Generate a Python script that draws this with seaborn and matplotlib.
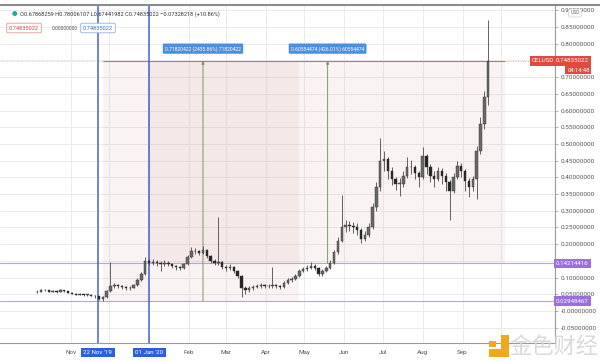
import numpy as np
import pandas as pd
import matplotlib
matplotlib.use("Agg")
import matplotlib.pyplot as plt
import matplotlib.dates as mdates
from matplotlib.patches import Rectangle
import seaborn as sns

# 3-day candles, starting 6 Oct 2019
start = "2019-10-06"
close = [0.058, 0.064, 0.062, 0.058, 0.060, 0.058, 0.062, 0.060, 0.055, 0.052,
         0.049, 0.050, 0.048, 0.049, 0.046, 0.044, 0.036, 0.042, 0.060, 0.075,
         0.078, 0.074, 0.071, 0.068, 0.070, 0.078, 0.093, 0.110, 0.150, 0.145,
         0.148, 0.145, 0.142, 0.145, 0.140, 0.134, 0.131, 0.128, 0.140, 0.160,
         0.180, 0.178, 0.174, 0.182, 0.165, 0.150, 0.144, 0.147, 0.132, 0.128,
         0.132, 0.120, 0.105, 0.070, 0.062, 0.068, 0.072, 0.075, 0.078, 0.074,
         0.075, 0.078, 0.074, 0.072, 0.085, 0.093, 0.096, 0.104, 0.120, 0.125,
         0.129, 0.135, 0.130, 0.110, 0.120, 0.128, 0.145, 0.175, 0.210, 0.250,
         0.258, 0.255, 0.250, 0.243, 0.215, 0.228, 0.252, 0.311, 0.370, 0.450,
         0.455, 0.420, 0.395, 0.380, 0.380, 0.405, 0.430, 0.432, 0.413, 0.400,
         0.465, 0.430, 0.405, 0.395, 0.420, 0.405, 0.385, 0.360, 0.400, 0.435,
         0.420, 0.390, 0.372, 0.395, 0.480, 0.560, 0.640, 0.748]
high = [0.062, 0.067, 0.066, 0.063, 0.063, 0.062, 0.067, 0.064, 0.061, 0.057,
        0.054, 0.053, 0.052, 0.052, 0.050, 0.048, 0.045, 0.045, 0.064, 0.147,
        0.085, 0.082, 0.078, 0.074, 0.076, 0.082, 0.098, 0.118, 0.162, 0.156,
        0.155, 0.152, 0.150, 0.152, 0.149, 0.143, 0.138, 0.135, 0.145, 0.166,
        0.192, 0.188, 0.182, 0.195, 0.185, 0.168, 0.155, 0.281, 0.150, 0.138,
        0.140, 0.135, 0.122, 0.108, 0.075, 0.074, 0.078, 0.081, 0.084, 0.082,
        0.080, 0.132, 0.082, 0.078, 0.090, 0.099, 0.103, 0.110, 0.127, 0.133,
        0.137, 0.147, 0.140, 0.132, 0.126, 0.136, 0.152, 0.182, 0.220, 0.347,
        0.272, 0.270, 0.266, 0.262, 0.248, 0.240, 0.262, 0.322, 0.385, 0.518,
        0.478, 0.462, 0.430, 0.402, 0.398, 0.418, 0.462, 0.452, 0.438, 0.420,
        0.490, 0.470, 0.440, 0.418, 0.432, 0.428, 0.412, 0.392, 0.412, 0.448,
        0.442, 0.425, 0.398, 0.405, 0.495, 0.580, 0.660, 0.870]
low = [0.054, 0.056, 0.059, 0.056, 0.056, 0.055, 0.057, 0.057, 0.053, 0.050,
       0.047, 0.047, 0.046, 0.046, 0.044, 0.040, 0.033, 0.0295, 0.040, 0.058,
       0.070, 0.068, 0.066, 0.063, 0.064, 0.068, 0.076, 0.090, 0.108, 0.138,
       0.138, 0.136, 0.120, 0.136, 0.134, 0.128, 0.124, 0.122, 0.126, 0.138,
       0.158, 0.170, 0.166, 0.170, 0.158, 0.144, 0.138, 0.138, 0.126, 0.120,
       0.124, 0.114, 0.098, 0.042, 0.052, 0.058, 0.064, 0.068, 0.070, 0.068,
       0.068, 0.070, 0.068, 0.066, 0.070, 0.082, 0.088, 0.094, 0.102, 0.116,
       0.120, 0.126, 0.122, 0.104, 0.106, 0.118, 0.126, 0.142, 0.170, 0.205,
       0.236, 0.238, 0.232, 0.228, 0.204, 0.208, 0.222, 0.246, 0.300, 0.360,
       0.420, 0.395, 0.378, 0.362, 0.345, 0.370, 0.398, 0.410, 0.395, 0.372,
       0.395, 0.410, 0.385, 0.370, 0.388, 0.380, 0.360, 0.272, 0.352, 0.395,
       0.400, 0.360, 0.340, 0.360, 0.335, 0.470, 0.545, 0.617]
first_open = 0.056

last_price = 0.74835022
level_hi = 0.14214416
level_lo = 0.02948467
header = "O0.67868259 H0.78006107 L0.67441982 C0.74835022 \u22120.07328218 (+10.86%)"
range_labels = ["0.71820422 (2435.86%) 71820422", "0.60554474 (426.01%) 60554474"]
months = ["Nov", "", "", "Feb", "Mar", "Apr", "May", "Jun", "Jul", "Aug", "Sep", ""]

df = pd.DataFrame({"close": close, "high": high, "low": low})
df["date"] = pd.date_range(start, periods=len(df), freq="3D")
df["open"] = [first_open] + close[:-1]
df["up"] = df["close"] >= df["open"]

sns.set_style("white")
plt.rcParams["font.family"] = ["Roboto", "Noto Sans CJK SC", "DejaVu Sans"]

fig = plt.figure(figsize=(6.0, 3.62), dpi=100)
ax = fig.add_axes([0.0, 19 / 362, 555 / 600, 338 / 362])

# grid
month_ticks = pd.date_range("2019-11-01", "2020-10-01", freq="MS")
for m in month_ticks:
    ax.axvline(m, color="#ebebeb", lw=0.7, zorder=0)
yt = np.round(np.arange(-0.05, 0.901, 0.05), 2)
for v in yt:
    ax.axhline(v, color="#ebebeb", lw=0.7, zorder=0)

# price range boxes
dA0, dA1 = mdates.date2num(pd.Timestamp("2019-11-26")), mdates.date2num(pd.Timestamp("2020-04-27"))
dB0, dB1 = mdates.date2num(pd.Timestamp("2020-01-01")), mdates.date2num(pd.Timestamp("2020-10-04"))
ax.add_patch(Rectangle((dA0, level_lo), dA1 - dA0, last_price - level_lo,
                       facecolor="#d9a3a3", alpha=0.13, lw=0, zorder=1))
ax.add_patch(Rectangle((dB0, level_hi), dB1 - dB0, last_price - level_hi,
                       facecolor="#d9a3a3", alpha=0.13, lw=0, zorder=1))

# horizontal levels
ax.axhline(level_hi, color="#b7a3e3", lw=0.8, zorder=2)
ax.axhline(level_lo, color="#b7a3e3", lw=0.8, zorder=2)
ax.hlines(last_price, dA0, dB1, color="#948c6a", lw=0.8, zorder=2)
ax.hlines(last_price, mdates.date2num(pd.Timestamp("2019-09-01")), dA0, color="#cfc3b5",
          lw=0.6, ls=(0, (1, 2)), zorder=2)
ax.hlines(last_price, dB1, mdates.date2num(pd.Timestamp("2020-11-20")), color="#d49a92",
          lw=0.6, ls=(0, (1, 2)), zorder=2)

# measure arrows
arrows = [("2020-02-12", level_lo), ("2020-05-19", level_hi)]
for (d, base), lab in zip(arrows, range_labels):
    xd = mdates.date2num(pd.Timestamp(d))
    ax.annotate("", xy=(xd, last_price), xytext=(xd, base),
                arrowprops=dict(arrowstyle="-|>", color="#7f9463", lw=0.7,
                                mutation_scale=4, shrinkA=0, shrinkB=0), zorder=3)
    ax.text(xd, last_price + 0.037, lab, ha="center", va="center", fontsize=3.6, color="white",
            bbox=dict(boxstyle="round,pad=0.45,rounding_size=0.2", fc="#4c8fdc", ec="none"), zorder=6)

# vertical date markers
for d in ["2019-11-22", "2020-01-01"]:
    ax.axvline(pd.Timestamp(d), color="#4862c4", lw=1.1, zorder=4)

# candles
colors = np.where(df["up"], "#6a6a6a", "#262626")
ax.vlines(df["date"], df["low"], df["high"], color="#4a4a4a", lw=0.6, zorder=5)
body_lo = np.minimum(df["open"], df["close"])
body_h = np.maximum(np.abs(df["close"] - df["open"]), 0.002)
ax.bar(df["date"], body_h, bottom=body_lo, width=1.9, color=colors,
       edgecolor="#2e2e2e", linewidth=0.3, zorder=5)

ax.set_xlim(pd.Timestamp("2019-09-07"), pd.Timestamp("2020-11-12"))
ax.set_ylim(-0.096, 0.916)

# axes styling (labels that sit under the price tags are hidden, as in the chart)
ax.yaxis.tick_right()
ax.set_yticks(yt)
ylabels = []
for v in yt:
    if abs(v) < 1e-9:
        ylabels.append("-0.00000000")
    elif abs(v - 0.75) < 1e-9 or abs(v - 0.15) < 1e-9:
        ylabels.append("")
    else:
        ylabels.append("%.8f" % v)
ax.set_yticklabels(ylabels)
ax.set_xticks(month_ticks)
ax.set_xticklabels(months)
ax.tick_params(axis="y", right=True, length=2.5, width=0.5, color="#999999",
               labelsize=4.6, labelcolor="#555555", pad=1.5)
ax.tick_params(axis="x", length=0, labelsize=4.6, labelcolor="#555555", pad=5)
for s in ["top", "left"]:
    ax.spines[s].set_visible(False)
for s in ["right", "bottom"]:
    ax.spines[s].set_color("#9a9a9a")
    ax.spines[s].set_linewidth(0.8)

# right-axis price tags
ytr = ax.get_yaxis_transform()
ax.text(1.002, last_price, "%.8f" % last_price, transform=ytr, ha="left", va="center", fontsize=4.4,
        color="white", bbox=dict(boxstyle="square,pad=0.35", fc="#e04a3f", ec="none"), clip_on=False, zorder=7)
ax.text(0.998, last_price, "CELUSD", transform=ytr, ha="right", va="center", fontsize=4.4,
        color="white", bbox=dict(boxstyle="square,pad=0.35", fc="#e04a3f", ec="none"), clip_on=False, zorder=7)
ax.text(1.022, last_price - 0.027, "04:14:48", transform=ytr, ha="left", va="center", fontsize=4.2,
        color="white", bbox=dict(boxstyle="square,pad=0.3", fc="#e04a3f", ec="none"), clip_on=False, zorder=7)
for v in [level_hi, level_lo]:
    ax.text(1.002, v, "%.8f" % v, transform=ytr, ha="left", va="center", fontsize=4.4,
            color="white", bbox=dict(boxstyle="square,pad=0.35", fc="#9b6fe0", ec="none"),
            clip_on=False, zorder=7)

# bottom date tags
xtr = ax.get_xaxis_transform()
for d, lab in [("2019-11-22", "22 Nov '19"), ("2020-01-01", "01 Jan '20")]:
    ax.text(pd.Timestamp(d), -0.028, lab, transform=xtr, ha="center", va="center", fontsize=4.4,
            color="white", bbox=dict(boxstyle="square,pad=0.4", fc="#2f5fd8", ec="none"),
            clip_on=False, zorder=7)

# header overlay
fig.add_artist(plt.Line2D([0, 1], [1 - 4.5 / 362] * 2, color="#8c8c8c", lw=1.5))
fig.text(14 / 600, 1 - 14 / 362, "\u25cf", fontsize=4, color="#26a69a", ha="center", va="center")
fig.text(20 / 600, 1 - 14 / 362, header, fontsize=4.1, color="#333333", va="center")
fig.text(9 / 600, 1 - 28 / 362, "%.8f" % last_price, fontsize=4.1, color="#d0453c", va="center",
         bbox=dict(boxstyle="round,pad=0.4,rounding_size=0.2", fc="white", ec="#e49a94", lw=0.6))
fig.text(52 / 600, 1 - 28 / 362, "0.00000000", fontsize=3.6, color="#555555", va="center")
fig.text(83 / 600, 1 - 28 / 362, "%.8f" % last_price, fontsize=4.1, color="#2f6fc2", va="center",
         bbox=dict(boxstyle="round,pad=0.4,rounding_size=0.2", fc="white", ec="#8fb3e0", lw=0.6))
fig.text(575 / 600, 1 - 13 / 362, "USD", fontsize=3.6, color="#666666", ha="center", va="center",
         bbox=dict(boxstyle="round,pad=0.3", fc="white", ec="#cccccc", lw=0.5), zorder=10)

# watermark
fig.patches.append(Rectangle((489 / 600, 1 - 357 / 362), 20 / 600, 8 / 362, transform=fig.transFigure,
                             fc="#f0a81c", ec="none"))
fig.patches.append(Rectangle((501 / 600, 1 - 349 / 362), 8 / 600, 14 / 362, transform=fig.transFigure,
                             fc="#f0a81c", ec="none"))
fig.patches.append(Rectangle((489 / 600, 1 - 347 / 362), 7 / 600, 6 / 362, transform=fig.transFigure,
                             fc="#f0a81c", ec="none"))
fig.text(554 / 600, 1 - 346 / 362, "金色财经", fontsize=16, color="#dadada", ha="center", va="center",
         family=["Noto Sans CJK SC", "DejaVu Sans"])

fig.savefig("out.png", dpi=100)
